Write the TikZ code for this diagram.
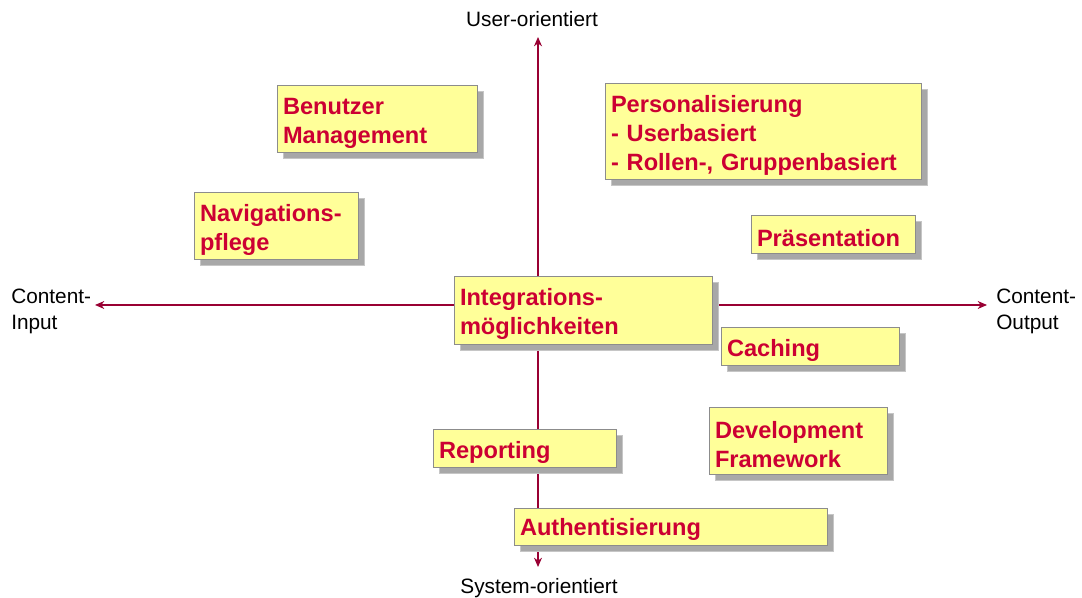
\documentclass[tikz,border=0pt]{standalone}
\usepackage{fontspec}
\setmainfont{Liberation Sans}
\usetikzlibrary{shadows,arrows.meta}
\definecolor{boxfill}{HTML}{FFFF99}
\definecolor{boxtext}{HTML}{CC0033}
\definecolor{axiscol}{HTML}{990033}
\definecolor{boxline}{HTML}{8C8C8C}
\definecolor{shadowcol}{HTML}{A8A8A8}
\tikzset{
  qbox/.style={draw=boxline, fill=boxfill, line width=0.75pt,
    font=\bfseries\fontsize{17.7}{21.75}\selectfont, text=boxtext,
    align=left, inner xsep=4.5pt, inner ysep=0pt,
    execute at begin node={\rule{0pt}{17.5pt}},
    drop shadow={shadow xshift=4.5pt, shadow yshift=-4.5pt, fill=shadowcol, draw=gray!45, opacity=1}},
  axisline/.style={draw=axiscol, line width=0.9pt, -{Stealth[length=7pt,width=6pt]}},
  axislabel/.style={font=\fontsize{15.6}{19.5}\selectfont, text=black, inner sep=0pt, align=left},
}
\newcommand\qbox[6]{%
  \pgfmathsetmacro\qw{(#4-#2)*0.75}%
  \pgfmathsetmacro\qh{(#5-#3)*0.75}%
  \pgfmathsetmacro\qt{(#4-#2-12)*0.75}%
  \node[qbox, minimum width=\qw pt, minimum height=\qh pt, text width=\qt pt]
    (#1) at ({(#2+#4)/2},{(#3+#5)/2}) {#6};}
\begin{document}
\begin{tikzpicture}[x=0.75pt,y=-0.75pt]
\useasboundingbox (0,0) rectangle (1082,598);
% axes
\coordinate (O) at (538,305);
\coordinate (top) at (538,37);
\coordinate (bottom) at (538,567);
\coordinate (left) at (95,305);
\coordinate (right) at (987,305);
\draw[axisline] (O) -- (top);
\draw[axisline] (O) -- (bottom);
\draw[axisline] (O) -- (left);
\draw[axisline] (O) -- (right);
% axis labels
\node[axislabel, anchor=base] (user) at (532,27) {User-orientiert};
\node[axislabel, anchor=base] (system) at (539,593) {System-orientiert};
\node[axislabel, anchor=base west] (cin) at (11,330) {Content-\\Input};
\node[axislabel, anchor=base west] (cout) at (996,330) {Content-\\Output};
% boxes
\qbox{benutzer}{277}{86}{477}{153}{Benutzer\\Management}
\qbox{personal}{605}{84}{921}{180}{Personalisierung\\- Userbasiert\\- Rollen-, Gruppenbasiert}
\qbox{navi}{194}{193}{358}{260}{Navigations-\\pflege}
\qbox{praes}{751}{216}{915}{254}{Präsentation}
\qbox{integ}{454}{277}{712}{345}{Integrations-\\möglichkeiten}
\qbox{caching}{721}{328}{899}{366}{Caching}
\qbox{reporting}{433}{430}{616}{468}{Reporting}
\qbox{devel}{709}{408}{887}{475}{Development\\Framework}
\qbox{auth}{514}{508}{827}{545}{Authentisierung}
\end{tikzpicture}
\end{document}
